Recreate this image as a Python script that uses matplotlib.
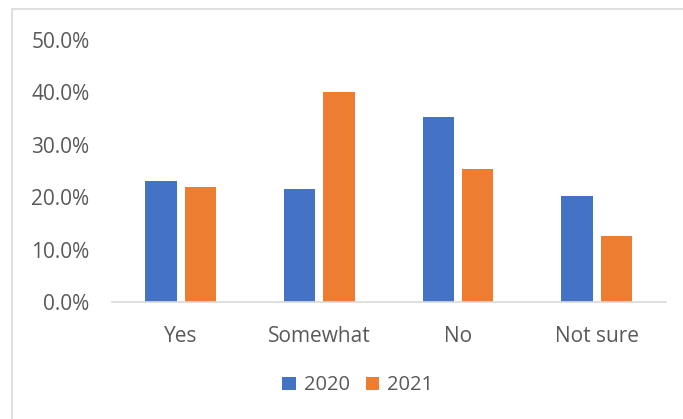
import matplotlib.pyplot as plt
import numpy as np
from matplotlib.patches import Rectangle
from matplotlib.ticker import PercentFormatter

plt.rcParams['font.family'] = ['Open Sans', 'DejaVu Sans']

categorias = ['Yes', 'Somewhat', 'No', 'Not sure']
valores_2020 = [23.1, 21.6, 35.3, 20.2]
valores_2021 = [22.0, 40.0, 25.4, 12.6]

azul = '#4472C4'
naranja = '#ED7D31'
gris_texto = '#595959'

fig = plt.figure(figsize=(6.83, 4.19), dpi=100)
ax = fig.add_axes([0.1635, 0.2785, 0.8113, 0.626])

# borde del area del grafico (se sale por la derecha y abajo)
fig.patches.append(Rectangle((12 / 683, -0.1), 1.1, 1 - 9 / 419 + 0.1,
                             transform=fig.transFigure, fill=False,
                             edgecolor='#d9d9d9', linewidth=1.2))

x = np.arange(len(categorias))
ancho = 0.227
sep = 0.1425
ax.bar(x - sep, valores_2020, ancho, color=azul, label='2020')
ax.bar(x + sep, valores_2021, ancho, color=naranja, label='2021')

ax.set_xlim(-0.5, len(categorias) - 0.5)
ax.set_ylim(0, 50)
ax.set_yticks(np.arange(0, 51, 10))
ax.yaxis.set_major_formatter(PercentFormatter(decimals=1))
ax.set_xticks(x)
ax.set_xticklabels(categorias)

for lado in ['top', 'right', 'left']:
    ax.spines[lado].set_visible(False)
ax.spines['bottom'].set_color('#d9d9d9')
ax.spines['bottom'].set_linewidth(1.2)
ax.tick_params(axis='both', length=0, labelsize=15, colors=gris_texto)
ax.tick_params(axis='y', pad=16)
ax.tick_params(axis='x', pad=17)

ax.legend(loc='center', bbox_to_anchor=(0.444, -0.317), ncol=2,
          frameon=False, fontsize=14.5, labelcolor=gris_texto,
          handlelength=0.67, handleheight=0.67, handletextpad=0.4,
          columnspacing=0.8)

fig.savefig('out.png', dpi=100)
